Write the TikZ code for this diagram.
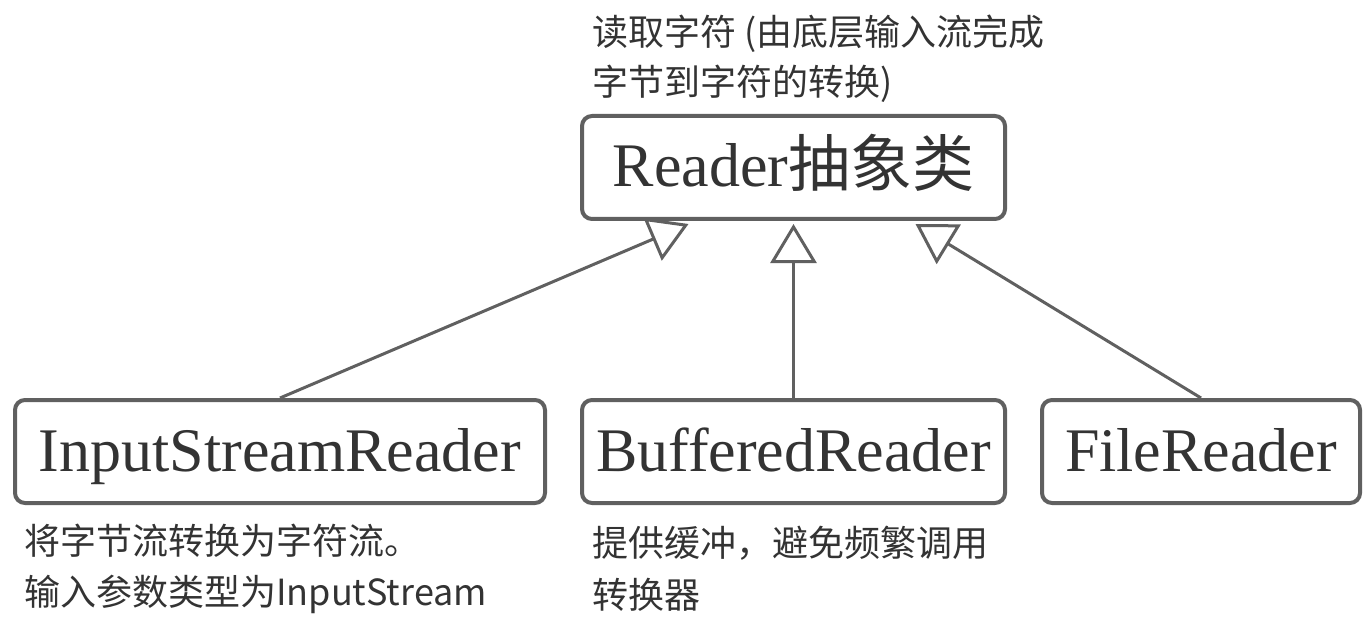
\documentclass[tikz,border=0pt]{standalone}
\usepackage{fontspec}
\setmainfont{Liberation Serif}
\newfontfamily\cjk{Noto Sans CJK SC}
\usetikzlibrary{arrows.meta,calc}
\definecolor{edgegray}{HTML}{606060}
\definecolor{txtgray}{HTML}{333333}
\tikzset{
  classbox/.style={draw=edgegray, line width=4pt, rounded corners=10pt, fill=white,
    text=txtgray, minimum height=103pt, inner sep=0pt,
    font=\fontsize{62}{64}\selectfont, text height=48pt, text depth=9pt},
  inherit/.style={draw=edgegray, line width=3pt,
    -{Triangle[length=39pt,width=46pt,fill=white,line width=3pt]}},
  note/.style={anchor=base west, inner sep=0pt, text=txtgray,
    font=\cjk\fontsize{36}{42}\selectfont}
}
\begin{document}
\begin{tikzpicture}[x=1pt,y=-1pt]
\useasboundingbox (0,0) rectangle (1372,628);
% classes
\node[classbox, minimum width=423pt] (reader) at (793.5,167.5) {Reader{\cjk 抽象类}};
\node[classbox, minimum width=530pt] (isr) at (280,451.5) {InputStreamReader};
\node[classbox, minimum width=423pt] (br) at (793.5,451.5) {BufferedReader};
\node[classbox, minimum width=318pt] (fr) at (1201,451.5) {FileReader};
% arrow tips on the Reader box
\coordinate (tipL) at ($(reader.south)+(-105,3)$);
\coordinate (tipM) at ($(reader.south)+(0,3)$);
\coordinate (tipR) at ($(reader.south)+(122,3)$);
\draw[inherit] (isr.north) -- (tipL);
\draw[inherit] (br.north) -- (tipM);
\draw[inherit] (fr.north) -- (tipR);
% notes
\node[note] (n1a) at (592,46) {读取字符 (由底层输入流完成};
\node[note] (n1b) at (592,96) {字节到字符的转换)};
\node[note] (n2a) at (24,554) {将字节流转换为字符流。};
\node[note] (n2b) at (24,605) {输入参数类型为InputStream};
\node[note] (n3a) at (592,556) {提供缓冲，避免频繁调用};
\node[note] (n3b) at (592,608) {转换器};
\end{tikzpicture}
\end{document}
